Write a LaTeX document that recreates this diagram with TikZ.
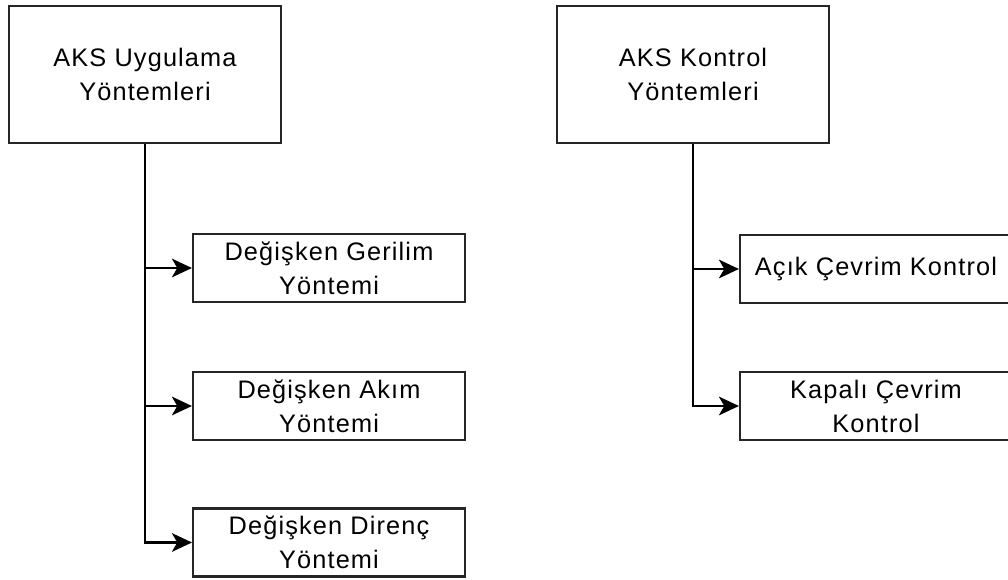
\documentclass[tikz,border=0pt]{standalone}
\usepackage{fontspec}
\setmainfont[LetterSpace=4.5]{Liberation Sans}
\usetikzlibrary{arrows.meta}

\begin{document}
\begin{tikzpicture}[
  head/.style={draw=black!85,line width=1.6pt,minimum width=204pt,minimum height=102.75pt,align=center},
  item/.style={draw=black!85,line width=1.6pt,minimum width=204pt,minimum height=51pt,align=center},
  edge/.style={-{Stealth[length=15pt,width=14pt,inset=4pt]},black,line width=1.6pt},
  every node/.style={font=\fontsize{19}{25.5}\selectfont,inner sep=0pt},
  x=0.75pt,y=-0.75pt
]
  \useasboundingbox (0,0) rectangle (1008,580);
  \node[head] (uyg) at (145,74.5) {AKS Uygulama\\Yöntemleri};
  \node[head] (kon) at (693,74.5) {AKS Kontrol\\Yöntemleri};
  \foreach \n/\yy/\t in {ger/268/Değişken Gerilim\\Yöntemi,akim/406/Değişken Akım\\Yöntemi,dir/542.5/Değişken Direnç\\Yöntemi} {
    \node[item] (\n) at (329,\yy) {\t};
    \draw[edge] (uyg.south) |- (\n.west);
  }
  \foreach \n/\yy/\t in {acik/269/Açık Çevrim Kontrol,kapali/406/Kapalı Çevrim\\Kontrol} {
    \node[item] (\n) at (876,\yy) {\t};
    \draw[edge] (kon.south) |- (\n.west);
  }
\end{tikzpicture}
\end{document}
